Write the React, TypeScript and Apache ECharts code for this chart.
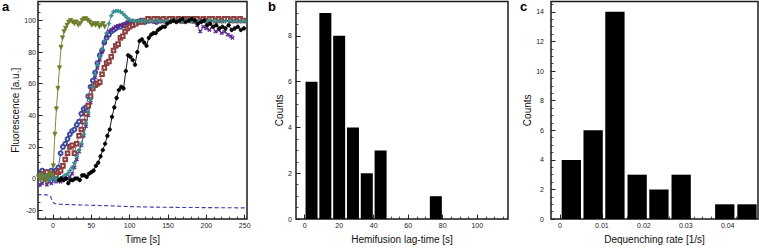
import React, { useEffect, useRef } from "react";
import * as echarts from "echarts";

const FONT = '"Liberation Sans", Arial, Helvetica, sans-serif';

// ---------- Panel a: fluorescence traces ----------
const oliveT = [-19, -16.5, -14, -11.5, -9, -6.5, -4, -1.5, 0.5, 2.5, 4.5, 6.5, 8.5, 10.5, 12.5, 14.5, 16.5, 18.5, 20.5, 23, 25.5, 28, 30.5, 33, 35.5, 38, 40.5, 43, 45.5, 48, 50.5, 53, 55.5, 58, 60.5, 63, 65.5, 67.5];
const oliveV = [1, -1, 2, 0, -2, 1, 3, 2, 8, 28, 44, 57, 70, 83, 89, 93, 95, 97, 99, 100, 99, 98, 99, 97, 98, 100, 101, 101, 100, 99, 97, 98, 97, 98, 96, 97, 98, 96];

const tealT = [-20, -17, -14, -11, -8, -5, -2, 1, 4, 7, 10, 13, 16, 19, 22, 25, 28, 31, 34, 37, 40, 43, 46, 49, 52, 55, 58, 61, 64, 67, 70, 73, 76, 79, 82, 85, 88, 91, 94, 97, 100, 104, 108, 112, 116, 120, 125, 130, 135, 140, 145, 150, 155, 160, 165, 170, 175, 180, 185, 190, 195, 200, 205, 210, 215, 220, 225, 230, 235, 240, 245, 250];
const tealV = [1, 2, 0, 1, 2, -1, 0, 1, -1, 0, 0, 1, 2, 3, 5, 7, 10, 14, 18, 22, 28, 35, 42, 50, 58, 66, 72, 77, 82, 87, 92, 98, 103, 105.5, 106, 106, 105.5, 104.5, 103, 101.5, 100.5, 100, 99.5, 99.5, 100, 99.5, 99.5, 99.5, 100, 99.5, 99.5, 99.5, 100, 99.5, 99.5, 99.5, 100, 99.5, 99.5, 99.5, 99.5, 99.5, 100, 99.5, 99.5, 99.5, 99.5, 99.5, 99.5, 99.5, 99.5, 99.5];

const blueT = [-20, -17, -14, -11, -8, -5, -2, 1, 4, 7, 10, 13, 16, 19, 22, 25, 28, 31, 34, 37, 40, 43, 46, 49, 52, 55, 58, 61, 64, 67, 70, 73, 76, 79, 82, 85, 88, 91, 94, 97, 100, 105, 110, 115, 120, 125, 130, 135, 140, 145, 150];
const blueV = [4, 3, 5, 2, 4, 3, 5, 4, 5, 7, 16, 20, 22, 25, 28, 30, 31, 34, 36, 41, 44, 45, 52, 58, 62, 67, 73, 78, 81, 86, 89, 91, 93, 94, 95, 96, 96, 97, 97, 98, 98, 99, 99, 100, 99, 100, 100, 99, 100, 100, 100];

const purpleT = [-20, -17, -14, -11, -8, -5, -2, 1, 4, 7, 10, 13, 16, 19, 22, 25, 28, 31, 34, 37, 40, 43, 46, 49, 52, 55, 58, 61, 64, 67, 70, 73, 76, 79, 82, 85, 88, 91, 94, 97, 100, 104, 108, 112, 116, 120, 124, 128, 132, 136, 140, 144, 148, 152, 156, 160, 164, 168, 172, 176, 180, 184, 188, 192, 196, 200, 204, 208, 212, 216, 220, 224, 228, 232, 234];
const purpleV = [-2, -4, -3, -1, -4, -2, -3, -1, -2, -1, -2, -1, 0, 0, 1, 3, 7, 12, 17, 21, 27, 33, 40, 48, 57, 64, 70, 75, 80, 86, 90, 93, 94, 95, 96, 96.5, 97, 97, 98, 99, 98, 99, 99, 100, 99, 100, 101, 100, 99, 100, 101, 100, 100, 99, 101, 100, 100, 99, 100, 101, 100, 99, 97, 93, 96, 95, 94, 96, 93, 94, 92, 93, 91, 90, 89];

const brownT = [-20, -17, -14, -11, -8, -5, -2, 1, 4, 7, 10, 13, 16, 19, 22, 25, 28, 31, 34, 37, 40, 43, 46, 49, 52, 55, 58, 61, 64, 67, 70, 73, 76, 79, 82, 85, 88, 91, 94, 97, 100, 104, 108, 112, 116, 120, 124, 128, 132, 136, 140, 144, 148, 152, 156, 160, 164, 168, 172, 176, 180, 184, 188, 192, 196, 200, 204, 208, 212, 216, 220, 224, 228, 232, 236, 240, 244, 248];
const brownV = [3, 1, 3, 2, 4, 1, 2, 3, 2, 4, 5, 8, 12, 16, 20, 21, 16, 22, 27, 31, 36, 41, 46, 52, 57, 59, 60, 61, 66, 70, 73, 74, 77, 81, 84, 85, 89, 90, 93, 95, 96, 97, 98, 99, 99, 100, 101, 100, 101, 101, 100, 101, 100, 101, 101, 100, 101, 100, 101, 101, 100, 101, 101, 100, 101, 100, 101, 101, 100, 101, 100, 101, 101, 100, 101, 100, 101, 100];

const blackT = [8, 11, 14, 17, 20, 23, 26, 29, 32, 35, 38, 41, 44, 47, 50, 53, 56, 59, 62, 65, 68, 71, 74, 77, 80, 83, 86, 89, 92, 95, 98, 101, 104, 107, 110, 113, 116, 119, 122, 125, 128, 131, 134, 137, 140, 143, 146, 149, 153, 157, 161, 165, 169, 173, 177, 181, 185, 189, 193, 197, 201, 205, 209, 213, 217, 221, 225, 229, 233, 237, 241, 245, 249];
const blackV = [-1, 0, -1, 0, -3, -1, -1, 0, 0, -1, 2, 2, 1, 3, 4, 5, 8, 10, 14, 18, 22, 27, 31, 39, 45, 51, 56, 58, 57, 68, 78, 77, 75, 72, 80, 87, 88, 86, 84, 89, 91, 92, 92, 94, 95, 96, 96, 98, 99, 100, 99, 100, 101, 99, 100, 101, 100, 98, 99, 100, 97, 98, 96, 97, 95, 96, 95, 97, 94, 95, 96, 94, 95];

const dashT = [-20, -15, -10, -5, -3, -1, 1, 3, 10, 20, 40, 60, 80, 100, 130, 160, 190, 220, 253];
const dashV = [-10.2, -10.3, -10.4, -10.5, -11.5, -14, -15.5, -16, -16.3, -16.5, -16.8, -17.1, -17.4, -17.8, -18.1, -18.3, -18.4, -18.5, -18.6];

const aXTicks = [0, 50, 100, 150, 200, 250];
const aYTicks = [-20, 0, 20, 40, 60, 80, 100];

// ---------- Panel b: hemifusion lag-time histogram ----------
const bBinCenters = [4, 12, 20, 28, 36, 44, 52, 60, 68, 76];
const bCounts = [6, 9, 8, 4, 2, 3, 0, 0, 0, 1];
const bXTicks = [0, 20, 40, 60, 80, 100];
const bYTicks = [0, 2, 4, 6, 8];

// ---------- Panel c: dequenching rate histogram ----------
const cBinCenters = [0.0027, 0.0079, 0.0131, 0.0184, 0.0236, 0.0289, 0.0341, 0.0393, 0.0446];
const cCounts = [4, 6, 14, 3, 2, 3, 0, 1, 1];
const cXTicks = [0, 0.01, 0.02, 0.03, 0.04];
const cYTicks = [0, 2, 4, 6, 8, 10, 12, 14];

const zip = (t: number[], v: number[]) => t.map((x, i) => [x, v[i]]);
const steps = (from: number, to: number, step: number) => {
  const out: number[] = [];
  for (let k = 0; from + k * step <= to + 1e-9; k++) out.push(+(from + k * step).toFixed(6));
  return out;
};

const PLUS = "path://M3,0h2v3h3v2h-3v3h-2v-3h-3v-2h3z";
const AXC = "#222";

function xMajor(grid: number, min: number, max: number, ticks: number[], name: string) {
  return {
    type: "value", gridIndex: grid, min, max, name, nameLocation: "middle", nameGap: 11, position: "bottom",
    nameTextStyle: { fontSize: 10, fontFamily: FONT, color: "#111" },
    axisLine: { show: false, onZero: false }, splitLine: { show: false },
    axisTick: { show: true, inside: true, length: 4.5, customValues: ticks, lineStyle: { color: AXC, width: 1 } },
    axisLabel: { show: true, customValues: ticks, fontSize: 7, fontFamily: FONT, color: AXC, margin: 3 },
  };
}
function xMinor(grid: number, min: number, max: number, ticks: number[]) {
  return {
    type: "value", gridIndex: grid, min, max, position: "bottom",
    axisLine: { show: false, onZero: false }, splitLine: { show: false }, axisLabel: { show: false },
    axisTick: { show: true, inside: true, length: 2.5, customValues: ticks, lineStyle: { color: AXC, width: 0.8 } },
  };
}
function yMajor(grid: number, min: number, max: number, ticks: number[], name: string, gap: number, margin: number) {
  return {
    type: "value", gridIndex: grid, min, max, name, nameLocation: "middle", nameGap: gap, position: "left",
    nameTextStyle: { fontSize: 10, fontFamily: FONT, color: "#111" },
    axisLine: { show: false, onZero: false }, splitLine: { show: false },
    axisTick: { show: true, inside: true, length: 4.5, customValues: ticks, lineStyle: { color: AXC, width: 1 } },
    axisLabel: { show: true, customValues: ticks, fontSize: 7, fontFamily: FONT, color: AXC, margin },
  };
}
function yMinor(grid: number, min: number, max: number, ticks: number[]) {
  return {
    type: "value", gridIndex: grid, min, max, position: "left",
    axisLine: { show: false, onZero: false }, splitLine: { show: false }, axisLabel: { show: false },
    axisTick: { show: true, inside: true, length: 2.5, customValues: ticks, lineStyle: { color: AXC, width: 0.8 } },
  };
}

function lineSeries(data: number[][], color: string, symbol: string, size: number, extra: any = {}) {
  return {
    type: "line", xAxisIndex: 0, yAxisIndex: 0, data, symbol, symbolSize: size,
    lineStyle: { color, width: 0.9 }, itemStyle: { color, borderColor: color, borderWidth: 0.7 },
    showSymbol: true, ...extra,
  };
}

export default function App() {
  const ref = useRef<HTMLDivElement>(null);
  useEffect(() => {
    const chart = echarts.init(ref.current!, null, { renderer: "svg" });
    const gridStyle = { show: true, borderColor: "#1a1a1a", borderWidth: 1.5, backgroundColor: "transparent" };
    chart.setOption({
      animation: false,
      textStyle: { fontFamily: FONT },
      grid: [
        { left: 38, top: 1.5, width: 209, height: 224, ...gridStyle },
        { left: 296, top: 1.5, width: 212, height: 224, ...gridStyle },
        { left: 551, top: 1.5, width: 207, height: 224, ...gridStyle },
      ],
      xAxis: [
        xMajor(0, -19.5, 253, aXTicks, "Time [s]"),
        xMinor(0, -19.5, 253, steps(-10, 250, 10)),
        xMajor(1, -5, 117.8, bXTicks, "Hemifusion lag-time [s]"),
        xMinor(1, -5, 117.8, steps(0, 115, 5)),
        xMajor(2, -0.00215, 0.04723, cXTicks, "Dequenching rate [1/s]"),
        xMinor(2, -0.00215, 0.04723, steps(0, 0.046, 0.002)),
      ],
      yAxis: [
        yMajor(0, -25.7, 112, aYTicks, "Fluorescence [a.u.]", 18, 2),
        yMinor(0, -25.7, 112, steps(-25, 110, 5)),
        yMajor(1, 0, 9.5, bYTicks, "Counts", 10.5, 4),
        yMinor(1, 0, 9.5, steps(0, 9.5, 0.5)),
        yMajor(2, 0, 14.7, cYTicks, "Counts", 15, 7),
        yMinor(2, 0, 14.7, steps(0, 14.5, 0.5)),
      ],
      series: [
        {
          type: "line", xAxisIndex: 0, yAxisIndex: 0, data: zip(dashT, dashV), symbol: "none",
          lineStyle: { color: "#3b3ba5", width: 1.1, type: [4, 2.5] },
        },
        lineSeries(zip(blueT, blueV), "#3a4aa0", "emptyCircle", 3.8),
        lineSeries(zip(purpleT, purpleV), "#5b2a8c", PLUS, 4, { symbolRotate: 45 }),
        lineSeries(zip(brownT, brownV), "#8e4040", "emptyRect", 3.6),
        lineSeries(zip(tealT, tealV), "#3a8f8f", PLUS, 3.8),
        lineSeries(zip(oliveT, oliveV), "#6e7d2b", "triangle", 4.2, { symbolRotate: 180 }),
        lineSeries(zip(blackT, blackV), "#000000", "circle", 3.6),
        {
          type: "bar", xAxisIndex: 2, yAxisIndex: 2, data: zip(bBinCenters, bCounts),
          barWidth: 12, itemStyle: { color: "#000" },
        },
        {
          type: "bar", xAxisIndex: 4, yAxisIndex: 4, data: zip(cBinCenters, cCounts),
          barWidth: 19.3, itemStyle: { color: "#000" },
        },
      ],
      graphic: [
        { type: "text", left: 2, top: 0, style: { text: "a", font: `bold 13px ${FONT}`, fill: "#000" } },
        { type: "text", left: 268, top: 0, style: { text: "b", font: `bold 13px ${FONT}`, fill: "#000" } },
        { type: "text", left: 520, top: 0, style: { text: "c", font: `bold 13px ${FONT}`, fill: "#000" } },
      ],
    });
    return () => chart.dispose();
  }, []);
  return <div ref={ref} style={{ position: "absolute", left: 0, top: 0, width: 759, height: 249 }} />;
}
